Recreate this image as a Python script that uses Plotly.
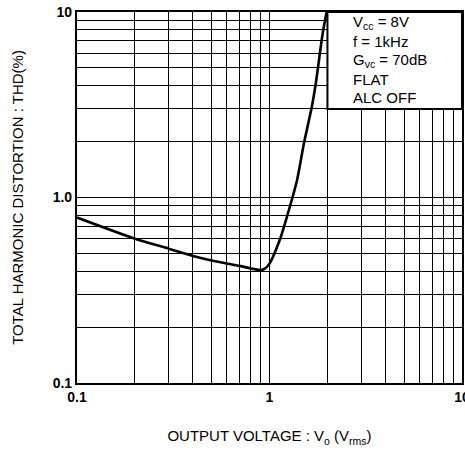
import math
import plotly.graph_objects as go

# ---- data ----
voltage_vrms = [0.1, 0.2, 0.3, 0.4, 0.5, 0.7, 0.9, 0.95, 1.0, 1.13, 1.25, 1.39, 1.51, 1.66, 1.74, 1.89, 1.98]
thd_percent = [0.78, 0.60, 0.53, 0.484, 0.458, 0.428, 0.406, 0.415, 0.44, 0.59, 0.83, 1.24, 1.96, 3.09, 4.13, 7.68, 10.0]

x_tick_vals = [0.1, 1, 10]
x_tick_text = ["0.1", "1", "10"]
y_tick_vals = [0.1, 1, 10]
y_tick_text = ["0.1", "1.0", "10"]
x_minor = [m * d for d in (0.1, 1) for m in range(2, 10)]
y_minor = [m * d for d in (0.1, 1) for m in range(2, 10)]

legend_lines = ["V<sub>cc</sub> = 8V", "f = 1kHz", "G<sub>vc</sub> = 70dB", "FLAT", "ALC OFF"]
legend_box_x = 2.0   # box left edge (V)
legend_box_y = 3.0   # box bottom edge (%)

FONT = "Liberation Sans, Arial, sans-serif"

FIG_W, FIG_H = 465, 455
M_L, M_R, M_T, M_B = 77, 3, 12, 72

fig = go.Figure()
fig.add_trace(go.Scatter(
    x=voltage_vrms, y=thd_percent, mode="lines",
    line=dict(color="black", width=2.6, shape="spline", smoothing=0.7),
    showlegend=False, hoverinfo="skip",
))

axis_common = dict(
    type="log", automargin=False,
    showline=True, linecolor="black", linewidth=2.2, mirror=True,
    showgrid=True, gridcolor="black", gridwidth=1.4,
    ticks="", zeroline=False, ticklabeloverflow="allow",
    tickfont=dict(family=FONT, size=14, color="black", weight="bold"),
)

fig.update_xaxes(
    **axis_common,
    range=[-1, 1],
    tickmode="array", tickvals=x_tick_vals, ticktext=x_tick_text,
    minor=dict(tickmode="array", tickvals=x_minor, showgrid=True,
               gridcolor="black", gridwidth=1.3, ticks=""),
    title=dict(text="OUTPUT VOLTAGE : V<sub>o</sub> (V<sub>rms</sub>)",
               font=dict(family=FONT, size=15, color="black"), standoff=27),
)
fig.update_yaxes(
    **axis_common,
    range=[-1, 1],
    tickmode="array", tickvals=y_tick_vals, ticktext=y_tick_text,
    minor=dict(tickmode="array", tickvals=y_minor, showgrid=True,
               gridcolor="black", gridwidth=1.3, ticks=""),
    title=dict(text="TOTAL HARMONIC DISTORTION : THD(%)",
               font=dict(family=FONT, size=15, color="black"), standoff=25),
)

# legend box (white, covers grid)
bx0 = (math.log10(legend_box_x) + 1) / 2
by0 = (math.log10(legend_box_y) + 1) / 2
fig.add_shape(type="rect", xref="paper", yref="paper",
              x0=bx0, x1=1, y0=by0, y1=1,
              fillcolor="white", line=dict(color="black", width=2),
              layer="above")

plot_h_px = FIG_H - M_T - M_B
plot_w_px = FIG_W - M_L - M_R
for i, txt in enumerate(legend_lines):
    dy = 11 + i * 18.7          # px below plot top
    fig.add_annotation(
        xref="paper", yref="paper",
        x=274 / plot_w_px, y=1 - dy / plot_h_px,
        xanchor="left", yanchor="middle",
        text=txt, showarrow=False,
        font=dict(family=FONT, size=15, color="black"),
    )

fig.update_layout(
    width=FIG_W, height=FIG_H,
    margin=dict(l=M_L, r=M_R, t=M_T, b=M_B),
    paper_bgcolor="white", plot_bgcolor="white",
    font=dict(family=FONT, color="black"),
)

# remove the browser's default 8px body margin so the figure sits at the window origin
fig.write_html("out.html", config={"displayModeBar": False},
               post_script="document.body.style.margin='0px';")
